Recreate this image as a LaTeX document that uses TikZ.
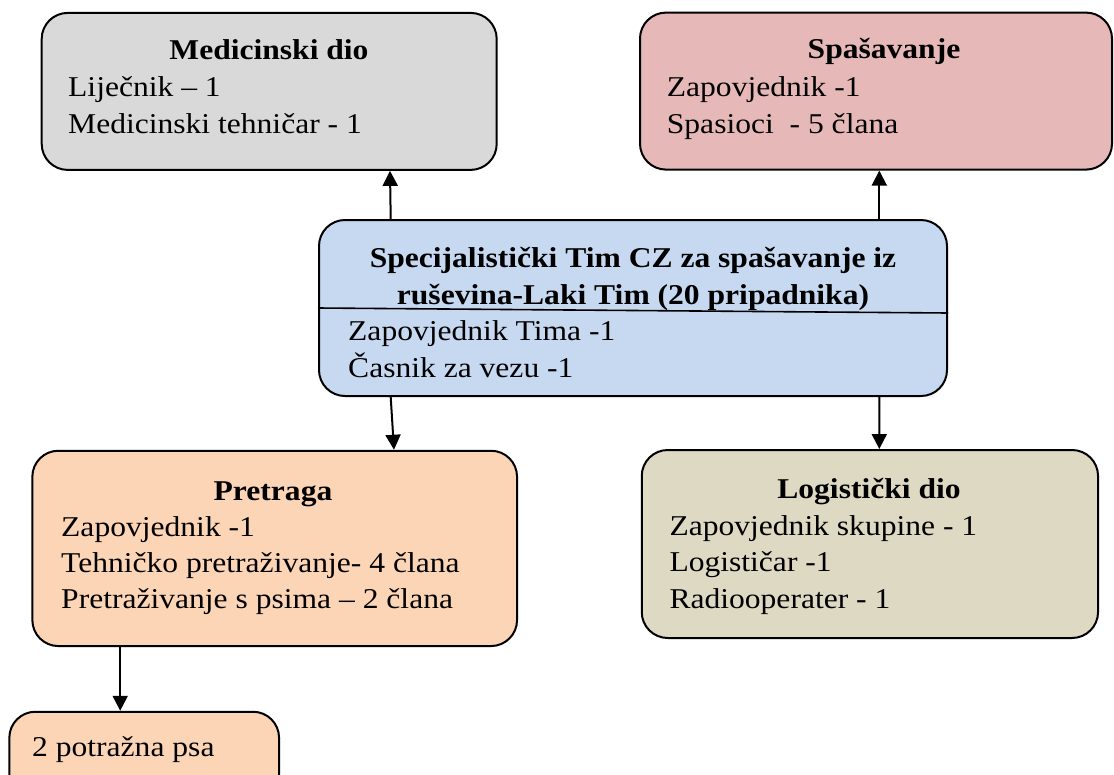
\documentclass[tikz,border=0pt]{standalone}
\usepackage{fontspec}
\setmainfont[FakeStretch=1.10]{Liberation Serif}
\usetikzlibrary{arrows.meta,calc}
\definecolor{cgray}{HTML}{D9D9D9}
\definecolor{cred}{HTML}{E6B9B8}
\definecolor{cblue}{HTML}{C6D9F1}
\definecolor{corange}{HTML}{FBD5B5}
\definecolor{colive}{HTML}{DDD9C3}
\tikzset{
  box/.style={draw=black, line width=2pt, rounded corners=26pt, inner sep=0pt},
  txt/.style={anchor=base west, inner sep=0pt, font=\fontsize{28.7}{36}\selectfont},
  ttl/.style={anchor=base, inner sep=0pt, font=\fontsize{28.7}{36}\selectfont\bfseries},
  arr/.style={line width=2pt, -{Triangle[length=15pt,width=15pt]}}
}
\begin{document}
\begin{tikzpicture}[x=1pt,y=-1pt]
\useasboundingbox (0,0) rectangle (1114,774);
% boxes
\node[box, fill=cgray, minimum width=455pt, minimum height=157pt] (med) at (269.2,91.4) {};
\node[box, fill=cred, minimum width=472pt, minimum height=157pt] (spa) at (876,91.1) {};
\node[box, fill=cblue, minimum width=628pt, minimum height=176pt] (cen) at (633,308) {};
\node[box, fill=corange, minimum width=484.7pt, minimum height=195.3pt] (pre) at (274.7,548.4) {};
\node[box, fill=colive, minimum width=456.3pt, minimum height=188pt] (log) at (869.9,544) {};
\node[box, fill=corange, minimum width=269.7pt, minimum height=88.3pt] (psa) at (144.2,755.9) {};
% divider in central box
\draw[line width=1.6pt] ($(cen.north west)+(0,89)$) -- ($(cen.north east)+(0,94)$);
% texts
\node[ttl] (medt) at (269,59.3) {Medicinski dio};
\node[txt] (med1) at (68,96.7) {Liječnik – 1};
\node[txt] (med2) at (68,133.3) {Medicinski tehničar - 1};
\node[ttl] (spat) at (884,58.3) {Spašavanje};
\node[txt] (spa1) at (666.7,96) {Zapovjednik -1};
\node[txt] (spa2) at (666.7,133.3) {Spasioci\ \ - 5 člana};
\node[ttl] (cent1) at (633,267) {Specijalistički Tim CZ za spašavanje iz};
\node[ttl] (cent2) at (633,304) {ruševina-Laki Tim (20 pripadnika)};
\node[txt] (cen1) at (348,340) {Zapovjednik Tima -1};
\node[txt] (cen2) at (348,377) {Časnik za vezu -1};
\node[ttl] (pret) at (273,500) {Pretraga};
\node[txt] (pre1) at (61,536) {Zapovjednik -1};
\node[txt] (pre2) at (61,572) {Tehničko pretraživanje- 4 člana};
\node[txt] (pre3) at (61,608) {Pretraživanje s psima – 2 člana};
\node[ttl] (logt) at (869,498.3) {Logistički dio};
\node[txt] (log1) at (669.3,535) {Zapovjednik skupine - 1};
\node[txt] (log2) at (669.3,571.7) {Logističar -1};
\node[txt] (log3) at (669.3,608.3) {Radiooperater - 1};
\node[txt] (psa1) at (32,756) {2 potražna psa};
% arrows
\draw[arr] ($(cen.north)+(-242.3,0)$) -- ($(med.south)+(120.8,0)$);
\draw[arr] ($(cen.north)+(246.3,0)$) -- ($(spa.south)+(3.3,0)$);
\draw[arr] ($(cen.south)+(-242.3,0)$) -- ($(pre.north)+(119.3,0)$);
\draw[arr] ($(cen.south)+(246.3,0)$) -- ($(log.north)+(9.4,0)$);
\draw[arr] ($(pre.south)+(-154.5,0)$) -- ($(psa.north)+(-24,0)$);
\end{tikzpicture}
\end{document}
